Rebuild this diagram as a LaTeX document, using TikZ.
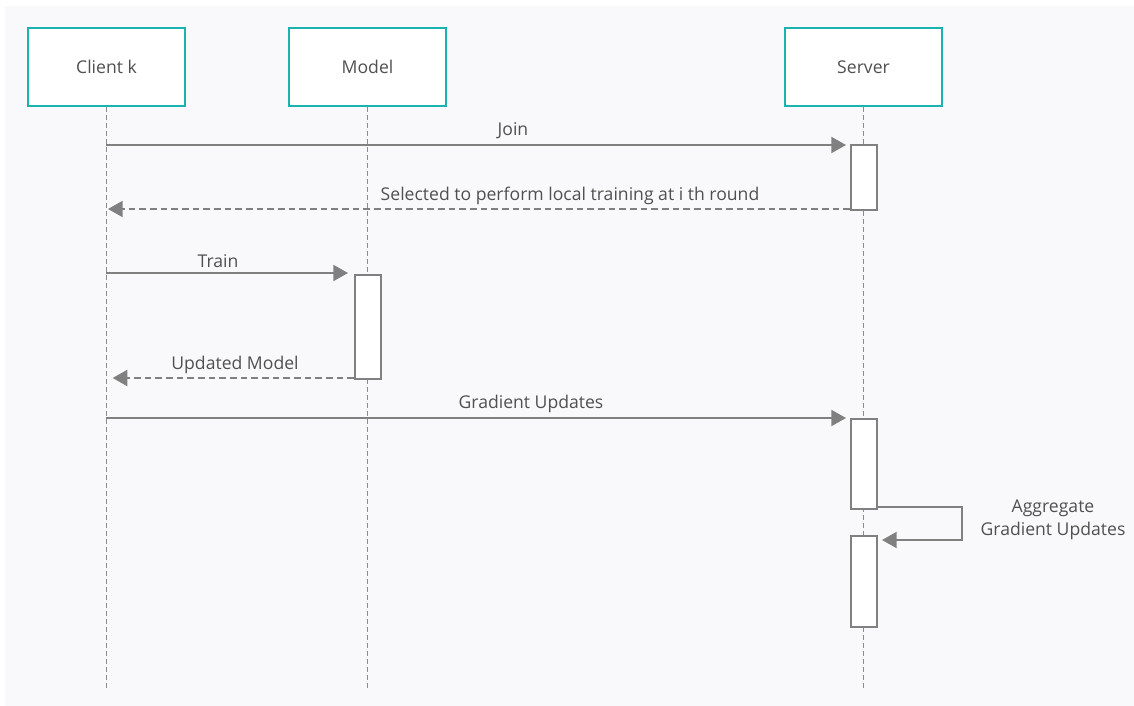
\documentclass[tikz,border=0pt]{standalone}
\usepackage{fontspec}
\setmainfont{Open Sans}
\usetikzlibrary{positioning,arrows.meta,calc}
\definecolor{cTeal}{RGB}{26,180,174}
\definecolor{cLine}{RGB}{128,128,128}
\definecolor{cLife}{RGB}{140,140,140}
\definecolor{cText}{RGB}{80,80,80}
\definecolor{cBack}{RGB}{249,249,251}

\begin{document}
\begin{tikzpicture}[
  x=0.75pt, y=-0.75pt,
  font=\fontsize{13.2}{17}\selectfont,
  actor/.style={draw=cTeal, fill=white, line width=1.8pt,
    minimum width=117.75pt, minimum height=58.5pt, text=cText},
  act/.style={draw=cLine, fill=white, line width=1.5pt,
    minimum width=19.5pt, minimum height=#1, inner sep=0pt},
  life/.style={cLife, line width=1.1pt, dash pattern=on 3.5pt off 2.5pt},
  msg/.style={-{Triangle[length=11pt, width=12pt]}, cLine, line width=1.5pt},
  reply/.style={msg, dash pattern=on 5pt off 3pt},
  lbl/.style={text=cText, align=center, inner sep=1pt},
]

% Canvas.
\useasboundingbox (0,0) rectangle (1134,706);
\fill[cBack] (5,6) rectangle (1134,706);

% Participants.
\node[actor] (client) at (106.5,67) {Client k};
\node[actor] (model) at (367.5,67) {Model};
\node[actor] (server) at (863.5,67) {Server};

% Lifelines.
\coordinate (clientEnd) at (106,688);
\coordinate (modelEnd) at (367,688);
\coordinate (serverEnd) at (863,688);
\draw[life] (client.south) -- (client.south |- clientEnd);
\draw[life] (model.south) -- (model.south |- modelEnd);
\draw[life] (server.south) -- (server.south |- serverEnd);

% Activation bars.
\node[act=48.75pt] (join) at (864,177.5) {};
\node[act=78pt] (train) at (368,327) {};
\node[act=67.5pt] (grad) at (864,464) {};
\node[act=68.25pt] (aggr) at (864,581.5) {};

% Messages.
\coordinate (cJoin) at (106,145);
\coordinate (cSel) at (106,209);
\coordinate (cTrain) at (106,273);
\coordinate (cUpd) at (106,378);
\coordinate (cGrad) at (106,418);
\coordinate (loopA) at (878,507);
\coordinate (loopB) at (962,540);

\draw[msg, shorten >=3pt] (cJoin) -- (cJoin -| join.west);
\draw[reply, shorten >=1.5pt] (cSel -| join.west) -- (cSel);
\draw[msg, shorten >=4.5pt] (cTrain) -- (cTrain -| train.west);
\draw[reply, shorten >=5pt] (cUpd -| train.west) -- (cUpd);
\draw[msg, shorten >=3pt] (cGrad) -- (cGrad -| grad.west);
\draw[msg, shorten >=3pt] (loopA) -| (loopB) -- (loopB -| aggr.east);

% Message labels.
\node[lbl] (lJoin) at (513,131) {Join};
\node[lbl] (lSel) at (570,196) {Selected to perform local training at i th round};
\node[lbl] (lTrain) at (218,261) {Train};
\node[lbl] (lUpd) at (235,365) {Updated Model};
\node[lbl] (lGrad) at (531,404) {Gradient Updates};
\node[lbl] (lAggr) at (1053,520) {Aggregate\\Gradient Updates};

\end{tikzpicture}
\end{document}
